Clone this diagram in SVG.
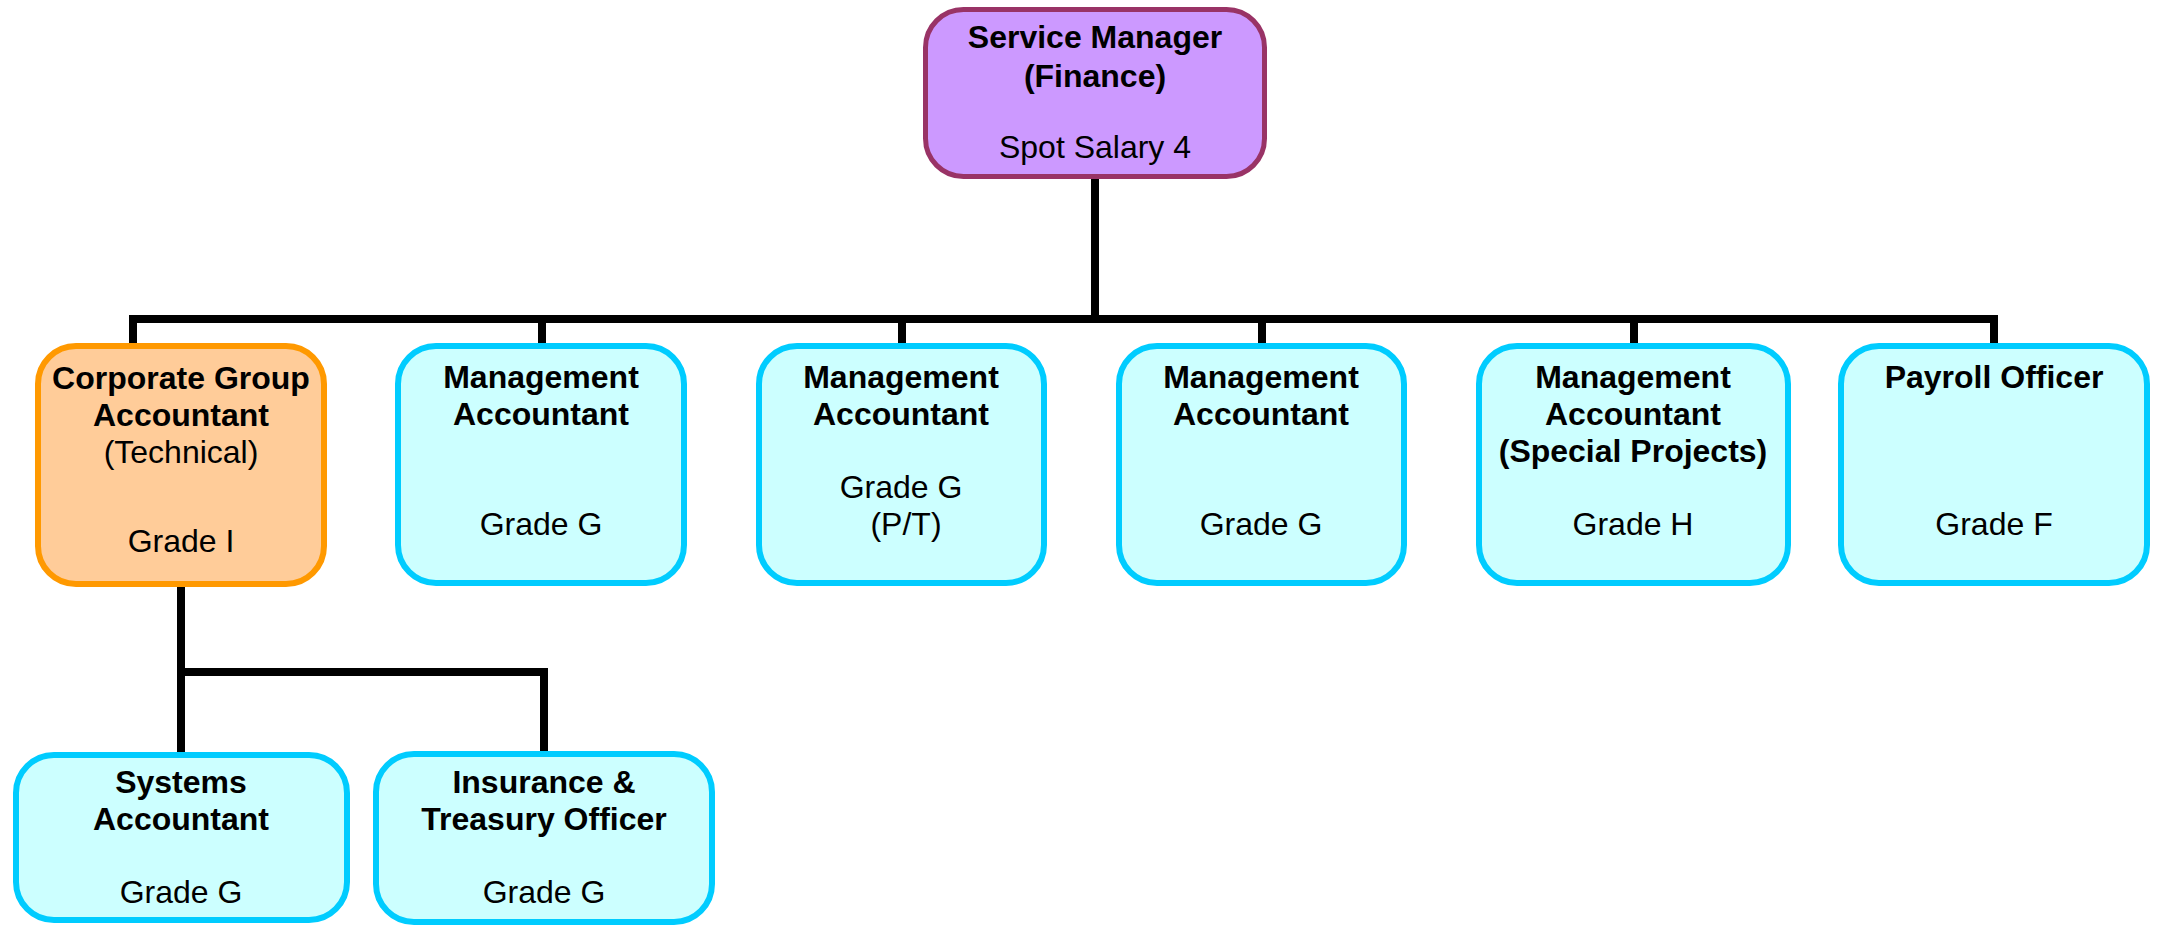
<svg xmlns="http://www.w3.org/2000/svg" width="2161" height="927" viewBox="0 0 2161 927">
<style>
.cyan{fill:#CCFFFF;stroke:#00CCFF;stroke-width:6}
.orange{fill:#FFCC99;stroke:#FF9900;stroke-width:6}
.purple{fill:#CC99FF;stroke:#993366;stroke-width:5}
text{font-family:"Liberation Sans",Arial,sans-serif;font-size:32px;fill:#000;text-anchor:middle}
.b{font-weight:bold}
.conn{fill:none;stroke:#000;stroke-width:8;stroke-linejoin:miter;stroke-linecap:butt}
</style>
<rect width="2161" height="927" fill="#FFFFFF"/>
<g id="connectors">
<path class="conn" d="M1095 179 V319"/>
<path class="conn" d="M133 343 V319 H1994 V343"/>
<path class="conn" d="M542 319 V343"/>
<path class="conn" d="M902 319 V343"/>
<path class="conn" d="M1262 319 V343"/>
<path class="conn" d="M1634 319 V343"/>
<path class="conn" d="M181 587 V752"/>
<path class="conn" d="M181 672 H544 V751"/>
</g>
<g id="service-manager">
<rect class="purple" x="925.5" y="9.5" width="339" height="167" rx="38"/>
<text class="b" x="1095" y="48">Service Manager</text>
<text class="b" x="1095" y="87">(Finance)</text>
<text x="1095" y="158">Spot Salary 4</text>
</g>
<g id="corporate-group-accountant">
<rect class="orange" x="38" y="346" width="286" height="238" rx="38"/>
<text class="b" x="181" y="389">Corporate Group</text>
<text class="b" x="181" y="426">Accountant</text>
<text x="181" y="463">(Technical)</text>
<text x="181" y="552">Grade I</text>
</g>
<g id="management-accountant-1">
<rect class="cyan" x="398" y="346" width="286" height="237" rx="38"/>
<text class="b" x="541" y="388">Management</text>
<text class="b" x="541" y="425">Accountant</text>
<text x="541" y="535">Grade G</text>
</g>
<g id="management-accountant-2">
<rect class="cyan" x="759" y="346" width="285" height="237" rx="38"/>
<text class="b" x="901" y="388">Management</text>
<text class="b" x="901" y="425">Accountant</text>
<text x="901" y="498">Grade G</text>
<text x="906" y="535">(P/T)</text>
</g>
<g id="management-accountant-3">
<rect class="cyan" x="1119" y="346" width="285" height="237" rx="38"/>
<text class="b" x="1261" y="388">Management</text>
<text class="b" x="1261" y="425">Accountant</text>
<text x="1261" y="535">Grade G</text>
</g>
<g id="management-accountant-special">
<rect class="cyan" x="1479" y="346" width="309" height="237" rx="38"/>
<text class="b" x="1633" y="388">Management</text>
<text class="b" x="1633" y="425">Accountant</text>
<text class="b" x="1633" y="462">(Special Projects)</text>
<text x="1633" y="535">Grade H</text>
</g>
<g id="payroll-officer">
<rect class="cyan" x="1841" y="346" width="306" height="237" rx="38"/>
<text class="b" x="1994" y="388">Payroll Officer</text>
<text x="1994" y="535">Grade F</text>
</g>
<g id="systems-accountant">
<rect class="cyan" x="16" y="755" width="331" height="165" rx="38"/>
<text class="b" x="181" y="793">Systems</text>
<text class="b" x="181" y="830">Accountant</text>
<text x="181" y="903">Grade G</text>
</g>
<g id="insurance-treasury-officer">
<rect class="cyan" x="376" y="754" width="336" height="168" rx="38"/>
<text class="b" x="544" y="793">Insurance &amp;</text>
<text class="b" x="544" y="830">Treasury Officer</text>
<text x="544" y="903">Grade G</text>
</g>
</svg>
